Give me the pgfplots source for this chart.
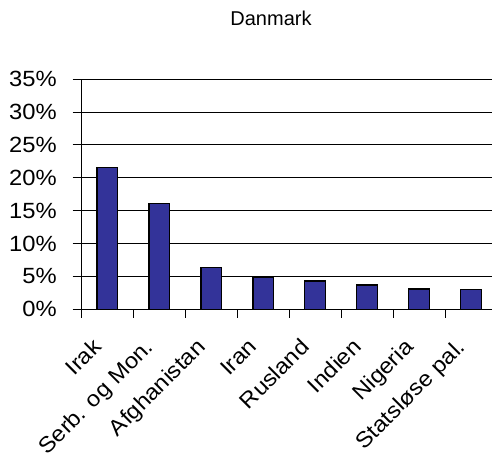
\documentclass[border=0pt]{standalone}
\usepackage{pgfplots}
\pgfplotsset{compat=1.18}
\usepackage{fontspec}
\setmainfont{Liberation Sans}
\newfontfamily\tickfont[FakeStretch=1.08]{Liberation Sans}
\definecolor{barblue}{HTML}{333399}
\begin{document}
\begin{tikzpicture}
\begin{axis}[
  at={(0,0)}, anchor=south west,
  scale only axis,
  width=410.7pt, height=230.3pt,
  xmin=-0.5, xmax=7.4,
  ymin=0, ymax=35,
  axis lines=left,
  axis line style={-, black, line width=0.9pt},
  xtick={0,1,2,3,4,5,6,7},
  xticklabels={Irak,Serb. og Mon.,Afghanistan,Iran,Rusland,Indien,Nigeria,Statsløse pal.},
  major x tick style={draw=none},
  minor xtick={-0.5,0.5,1.5,2.5,3.5,4.5,5.5,6.5},
  minor x tick style={draw=black, line width=0.8pt},
  ytick={0,5,10,15,20,25,30,35},
  yticklabel={\pgfmathprintnumber{\tick}\%},
  tick align=outside,
  major tick length=8.6pt,
  minor tick length=8.6pt,
  ytick style={draw=black, line width=0.8pt},
  ymajorgrids,
  grid style={black, line width=0.8pt},
  /pgf/number format/assume math mode=true,
  tick label style={font=\tickfont\fontsize{22}{26}\selectfont},
  yticklabel style={anchor=east, xshift=-12.5pt},
  xticklabel style={xshift=-16pt, yshift=-19pt, rotate=45, anchor=north east, inner sep=0pt},
  clip=false,
]
\addplot[ybar, bar width=20.7pt, fill=barblue, draw=black, line width=1.2pt]
  coordinates {(0,21.6) (1,16.1) (2,6.4) (3,4.9) (4,4.3) (5,3.7) (6,3.1) (7,3.05)};
\end{axis}
\node[anchor=base, font=\fontsize{20}{24}\selectfont] at (189.7pt,283.3pt) {Danmark};
\pgfresetboundingbox
\path[use as bounding box] (-81.3pt,-142.7pt) rectangle (410.7pt,309.3pt);
\end{tikzpicture}
\end{document}
